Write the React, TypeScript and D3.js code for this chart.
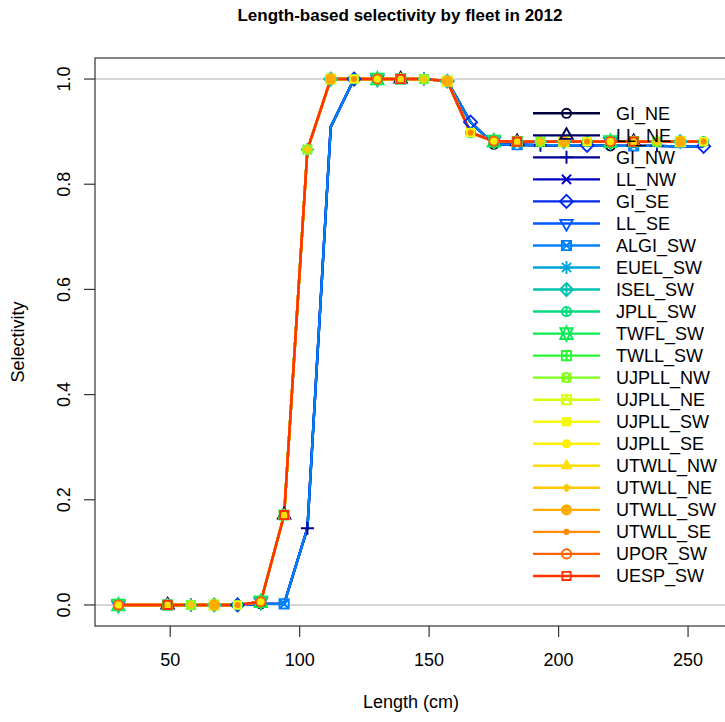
import * as d3 from "d3";

const width = 725;
const height = 722;

// length bins (cm) at which selectivity is reported
const lengthBins = [30, 49, 58, 67, 76, 85, 94, 103, 112, 121, 130, 139, 148, 157, 166, 175, 184, 193, 202, 211, 220, 229, 238, 247, 256];

// selectivity shared by the gillnet fleets (blue curve)
const selexGroupA = [0, 0, 0, 0, 0, 0.002, 0.002, 0.146, 0.909, 1, 1, 1, 1, 0.996, 0.918, 0.876, 0.875, 0.874, 0.874, 0.874, 0.873, 0.873, 0.873, 0.872, 0.872];
// selectivity shared by the remaining fleets (red curve)
const selexGroupB = [0, 0, 0, 0, 0, 0.006, 0.171, 0.866, 1, 1, 1, 1, 1, 0.996, 0.898, 0.882, 0.881, 0.881, 0.881, 0.881, 0.881, 0.881, 0.881, 0.881, 0.881];

const fleetNames = ["GI_NE", "LL_NE", "GI_NW", "LL_NW", "GI_SE", "LL_SE", "ALGI_SW", "EUEL_SW", "ISEL_SW", "JPLL_SW", "TWFL_SW", "TWLL_SW", "UJPLL_NW", "UJPLL_NE", "UJPLL_SW", "UJPLL_SE", "UTWLL_NW", "UTWLL_NE", "UTWLL_SW", "UTWLL_SE", "UPOR_SW", "UESP_SW"];
// which curve each fleet follows (0 = gillnet curve, 1 = the other curve)
const fleetGroup = [0, 1, 0, 1, 0, 1, 0, 1, 1, 1, 1, 1, 1, 1, 1, 1, 1, 1, 1, 1, 1, 1];

const fleetColors = ["#000040", "#000067", "#000096", "#0000C6", "#0029EC", "#0058FF", "#0081F9", "#00A4DB", "#00C2AF", "#02DA7E", "#09EB52", "#29F830", "#80FE1A", "#D6FE0C", "#F6F905", "#FDEE02", "#FFDE01", "#FFC700", "#FFAB00", "#FF8900", "#FF6100", "#FF3300"];
const fleetPch = [1, 2, 3, 4, 5, 6, 7, 8, 9, 10, 11, 12, 13, 14, 15, 16, 17, 18, 19, 20, 21, 22];

const yTicks = [0, 0.2, 0.4, 0.6, 0.8, 1.0];
const xTicks = [50, 100, 150, 200, 250];

const groups = [selexGroupA, selexGroupB];
const spacePoints = 5;
const FONT = "'Liberation Sans', Arial, Helvetica, sans-serif";

const margin = { left: 95, top: 58, right: 727, bottom: 626 };

const xPad = 0.04 * (lengthBins[lengthBins.length - 1] - lengthBins[0]);
const x = d3
  .scaleLinear()
  .domain([lengthBins[0] - xPad, lengthBins[lengthBins.length - 1] + xPad])
  .range([margin.left, margin.right]);
const y = d3.scaleLinear().domain([-0.04, 1.04]).range([margin.bottom, margin.top]);

const RAD = 4.6;
const SQRC = 0.886227;
const TRC0 = 1.55512;
const TRC1 = TRC0 * Math.sqrt(3) / 2;
const TRC2 = TRC0 / 2;

// R-like plotting symbols
function Marker({ pch, cx, cy, color }) {
  const sw = 1.9;
  const R = RAD;
  const s2 = Math.SQRT2 * R;
  const open = { fill: "none", stroke: color, strokeWidth: sw };
  const solid = { fill: color, stroke: "none" };
  const tri = (up, r0) => {
    const r = TRC0 * r0, yc = TRC2 * r0, xc = TRC1 * r0;
    const d = up ? 1 : -1;
    return `M${cx},${cy - d * r}L${cx + xc},${cy + d * yc}L${cx - xc},${cy + d * yc}Z`;
  };
  const sq = (h) => `M${cx - h},${cy - h}h${2 * h}v${2 * h}h${-2 * h}Z`;
  const plus = (h) => `M${cx - h},${cy}h${2 * h}M${cx},${cy - h}v${2 * h}`;
  const cross = (h) => `M${cx - h},${cy - h}l${2 * h},${2 * h}M${cx - h},${cy + h}l${2 * h},${-2 * h}`;
  const diamond = (h) => `M${cx},${cy - h}L${cx + h},${cy}L${cx},${cy + h}L${cx - h},${cy}Z`;
  switch (pch) {
    case 1:
    case 21:
      return <circle cx={cx} cy={cy} r={R} {...open} />;
    case 2:
      return <path d={tri(true, R)} {...open} />;
    case 3:
      return <path d={plus(s2)} {...open} />;
    case 4:
      return <path d={cross(R)} {...open} />;
    case 5:
      return <path d={diamond(s2)} {...open} />;
    case 6:
      return <path d={tri(false, R)} {...open} />;
    case 7:
      return <path d={sq(R) + cross(R)} {...open} />;
    case 8:
      return <path d={cross(R) + plus(s2)} {...open} />;
    case 9:
      return <path d={diamond(s2) + plus(s2)} {...open} />;
    case 10:
      return (
        <g>
          <circle cx={cx} cy={cy} r={R} {...open} />
          <path d={plus(R)} {...open} />
        </g>
      );
    case 11: {
      const r = TRC0 * R;
      const yc = 0.5 * (TRC2 * R + r);
      const xc = TRC1 * R;
      return <path d={`M${cx},${cy - r}L${cx + xc},${cy + yc}L${cx - xc},${cy + yc}ZM${cx},${cy + r}L${cx + xc},${cy - yc}L${cx - xc},${cy - yc}Z`} {...open} />;
    }
    case 12:
      return <path d={sq(R) + plus(R)} {...open} />;
    case 13:
      return (
        <g>
          <circle cx={cx} cy={cy} r={R} {...open} />
          <path d={cross(R)} {...open} />
        </g>
      );
    case 14:
      return <path d={sq(R) + `M${cx},${cy - R}L${cx + R},${cy + R}L${cx - R},${cy + R}Z`} {...open} />;
    case 15:
      return <path d={sq(R)} {...solid} />;
    case 16:
      return <circle cx={cx} cy={cy} r={R} {...solid} />;
    case 17:
      return <path d={tri(true, R)} {...solid} />;
    case 18:
      return <path d={diamond(R)} {...solid} />;
    case 19:
      return <circle cx={cx} cy={cy} r={R} fill={color} stroke={color} strokeWidth={sw} />;
    case 20:
      return <circle cx={cx} cy={cy} r={R * 0.667} {...solid} />;
    case 22:
      return <path d={sq(R * SQRC)} {...open} />;
    default:
      return null;
  }
}

const App = () => {
  const line = d3
    .line()
    .x((d) => x(d[0]))
    .y((d) => y(d[1]));

  const legendX0 = 533;
  const legendX1 = 600;
  const legendTextX = 616;
  const legendY0 = 113.3;
  const legendStep = 22.03;

  return (
    <svg
      width={width}
      height={height}
      style={{ position: "absolute", left: 0, top: 0, background: "white", fontFamily: FONT }}
    >
      <text x={400} y={21} textAnchor="middle" fontWeight="bold" fontSize={17} fill="#000">
        Length-based selectivity by fleet in 2012
      </text>

      {/* reference lines at 0 and 1 */}
      {[0, 1].map((v) => (
        <line key={v} x1={margin.left} x2={margin.right} y1={y(v)} y2={y(v)} stroke="#c8c8c8" strokeWidth={1.4} />
      ))}

      {/* selectivity lines */}
      {fleetNames.map((name, i) => (
        <path
          key={name}
          d={line(lengthBins.map((b, j) => [b, groups[fleetGroup[i]][j]]))}
          fill="none"
          stroke={fleetColors[i]}
          strokeWidth={2.4}
          strokeLinejoin="round"
        />
      ))}

      {/* staggered points, every 5th bin per fleet */}
      {fleetNames.map((name, i) => (
        <g key={name}>
          {lengthBins.map((b, j) =>
            j % spacePoints === i % spacePoints ? (
              <Marker key={j} pch={fleetPch[i]} cx={x(b)} cy={y(groups[fleetGroup[i]][j])} color={fleetColors[i]} />
            ) : null,
          )}
        </g>
      ))}

      {/* box */}
      <rect
        x={margin.left}
        y={margin.top}
        width={margin.right - margin.left}
        height={margin.bottom - margin.top}
        fill="none"
        stroke="#333"
        strokeWidth={1.2}
      />

      {/* y axis */}
      {yTicks.map((v) => (
        <g key={v}>
          <line x1={margin.left} x2={margin.left - 11} y1={y(v)} y2={y(v)} stroke="#333" strokeWidth={1.2} />
          <text transform={`translate(70,${y(v)}) rotate(-90)`} textAnchor="middle" fontSize={18} fill="#000">
            {v.toFixed(1)}
          </text>
        </g>
      ))}
      <text transform={`translate(24,${(margin.top + margin.bottom) / 2}) rotate(-90)`} textAnchor="middle" fontSize={18}>
        Selectivity
      </text>

      {/* x axis */}
      {xTicks.map((v) => (
        <g key={v}>
          <line x1={x(v)} x2={x(v)} y1={margin.bottom} y2={margin.bottom + 11} stroke="#333" strokeWidth={1.2} />
          <text x={x(v)} y={666} textAnchor="middle" fontSize={18}>
            {v}
          </text>
        </g>
      ))}
      <text x={(margin.left + margin.right) / 2} y={708} textAnchor="middle" fontSize={18}>
        Length (cm)
      </text>

      {/* legend */}
      {fleetNames.map((name, i) => {
        const ly = legendY0 + i * legendStep;
        return (
          <g key={name}>
            <line x1={legendX0} x2={legendX1} y1={ly} y2={ly} stroke={fleetColors[i]} strokeWidth={2.4} />
            <Marker pch={fleetPch[i]} cx={(legendX0 + legendX1) / 2} cy={ly} color={fleetColors[i]} />
            <text x={legendTextX} y={ly + 6.5} fontSize={18} fill="#000">
              {name}
            </text>
          </g>
        );
      })}
    </svg>
  );
};

export default App;
